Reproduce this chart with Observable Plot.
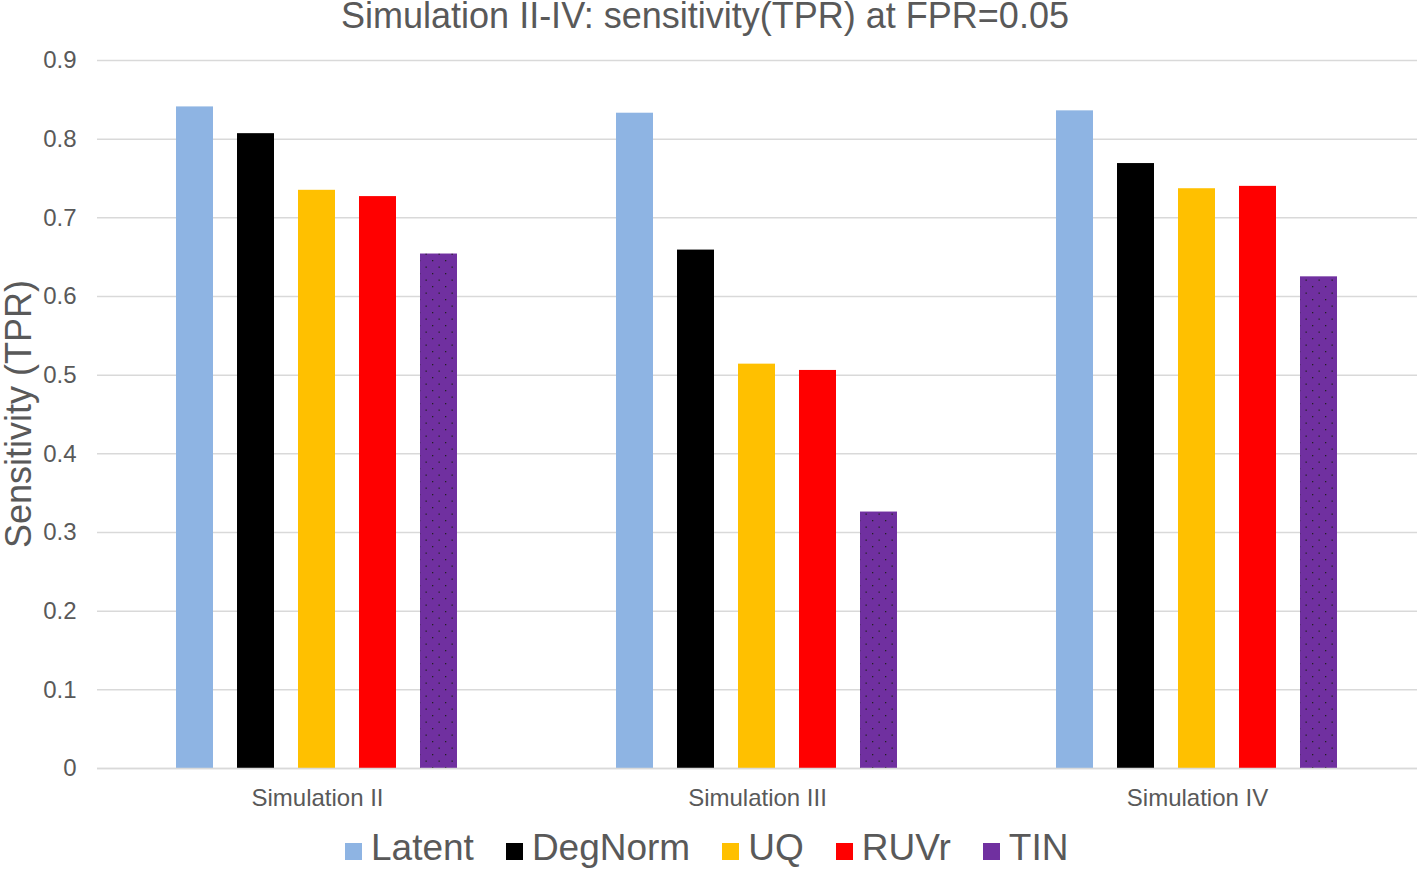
<!DOCTYPE html>
<html>
<head>
<meta charset="utf-8">
<script src="https://cdn.jsdelivr.net/npm/d3@7"></script>
<script src="https://cdn.jsdelivr.net/npm/@observablehq/plot@0.6"></script>
<style>
  html, body { margin: 0; padding: 0; background: #fff; }
  body { position: relative; width: 1418px; height: 869px; overflow: hidden; font-family: 'Liberation Sans', Arial, sans-serif; color: #595959; }
  #title { position: absolute; left: 0; top: 0px; width: 1410px; text-align: center; font-size: 36px; line-height: 32px; white-space: nowrap; }
  #chart { position: absolute; left: 0; top: 36px; }
  #legend { position: absolute; left: 345px; top: 829px; font-size: 37px; line-height: 37px; white-space: nowrap; }
  #legend .item { display: inline-block; margin-right: 32px; }
  #legend .sw { display: inline-block; width: 17px; height: 17px; margin-right: 9px; vertical-align: baseline; }
</style>
</head>
<body>
<div id="title">Simulation II-IV: sensitivity(TPR) at FPR=0.05</div>
<div id="chart"></div>
<div id="legend"></div>
<script>
const groups = ["Simulation II", "Simulation III", "Simulation IV"];
const methods = ["Latent", "DegNorm", "UQ", "RUVr", "TIN"];
const latent  = [0.841, 0.833, 0.836];
const degnorm = [0.807, 0.659, 0.769];
const uq      = [0.735, 0.514, 0.737];
const ruvr    = [0.727, 0.506, 0.740];
const tin     = [0.654, 0.326, 0.625];
const colors  = ["#8EB4E3", "#000000", "#FFC000", "#FF0000", "#7030A0"];
const yTicks  = [0, 0.1, 0.2, 0.3, 0.4, 0.5, 0.6, 0.7, 0.8, 0.9];
const yLabel  = "Sensitivity (TPR)";

const series = [latent, degnorm, uq, ruvr, tin];
const data = [];
groups.forEach((g, gi) => methods.forEach((m, mi) => data.push({group: g, method: m, value: series[mi][gi]})));

const plot = Plot.plot({
  width: 1418,
  height: 782,
  marginTop: 24,
  marginLeft: 96,
  marginRight: 1,
  marginBottom: 50,
  style: {fontFamily: "'Liberation Sans', Arial, sans-serif", color: "#595959", background: "#fff", overflow: "visible"},
  fx: {domain: groups, padding: 0, label: null},
  x: {domain: methods, paddingInner: 0.39, paddingOuter: 1.3, axis: null},
  y: {domain: [0, 0.9], label: null},
  color: {domain: methods, range: colors},
  marks: [
    Plot.gridY(yTicks, {stroke: "#d9d9d9", strokeOpacity: 1, strokeWidth: 1.5}),
    Plot.axisY(yTicks, {tickSize: 0, tickPadding: 21, fontSize: 24, label: null,
      tickFormat: d => d === 0 ? "0" : d.toFixed(1)}),
    Plot.axisFx({anchor: "bottom", tickSize: 0, tickPadding: 20, fontSize: 24, label: null}),
    Plot.barY(data, {fx: "group", x: "method", y: "value", fill: "method"}),
    Plot.barY(data.filter(d => d.method === "TIN"), {fx: "group", x: "method", y: "value", fill: "url(#tinDots)"}),
    Plot.ruleY([0], {stroke: "#d9d9d9", strokeWidth: 1.5})
  ]
});
document.getElementById("chart").appendChild(plot);

const defs = d3.select(plot).insert("defs", ":first-child");
const pat = defs.append("pattern").attr("id", "tinDots").attr("patternUnits", "userSpaceOnUse")
  .attr("width", 13).attr("height", 13);
pat.append("rect").attr("x", 2).attr("y", 3).attr("width", 1.3).attr("height", 1.3).attr("fill", "#222");
pat.append("rect").attr("x", 8.5).attr("y", 9.5).attr("width", 1.3).attr("height", 1.3).attr("fill", "#222");

d3.select(plot).append("text")
  .attr("transform", "translate(31," + (414 - 36) + ") rotate(-90)")
  .attr("text-anchor", "middle")
  .attr("font-size", 36)
  .attr("fill", "#595959")
  .text(yLabel);

const legend = d3.select("#legend");
methods.forEach((m, i) => {
  const it = legend.append("span").attr("class", "item");
  it.append("span").attr("class", "sw").style("background", colors[i]);
  it.append("span").text(m);
});
</script>
</body>
</html>
